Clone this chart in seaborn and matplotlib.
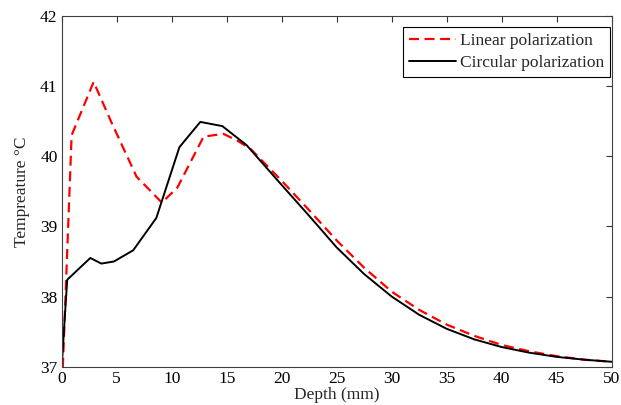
import numpy as np
import pandas as pd
import seaborn as sns
import matplotlib
matplotlib.use("Agg")
import matplotlib.pyplot as plt

depth_linear = [0.0, 0.1, 0.9, 2.9, 4.5, 6.8, 9.1, 10.5, 12.9, 14.7, 16.0, 17.2,
                20.0, 22.5, 25.0, 27.5, 30.0, 32.5, 35.0, 37.5, 40.0, 42.5, 45.0, 47.5, 50.0]
temp_linear = [37.0, 37.0, 40.30, 41.06, 40.49, 39.71, 39.34, 39.55, 40.28, 40.32, 40.22, 40.10,
               39.65, 39.23, 38.80, 38.41, 38.07, 37.81, 37.60, 37.44, 37.31, 37.22, 37.15, 37.10, 37.07]

depth_circular = [0.0, 0.3, 0.5, 2.6, 3.6, 4.75, 6.5, 8.6, 10.7, 12.6, 14.6, 16.8,
                  20.0, 22.5, 25.0, 27.5, 30.0, 32.5, 35.0, 37.5, 40.0, 42.5, 45.0, 47.5, 50.0]
temp_circular = [37.0, 37.76, 38.24, 38.55, 38.47, 38.50, 38.66, 39.12, 40.13, 40.49, 40.43, 40.16,
                 39.59, 39.15, 38.70, 38.32, 38.00, 37.74, 37.54, 37.39, 37.28, 37.20, 37.14, 37.10, 37.07]

x_ticks = [0, 5, 10, 15, 20, 25, 30, 35, 40, 45, 50]
y_ticks = [37, 38, 39, 40, 41, 42]

sns.set_style("white")
plt.rcParams['font.family'] = ['Liberation Serif', 'DejaVu Serif']

fig = plt.figure(figsize=(6.21, 4.05), dpi=100)
ax = fig.add_axes([0.0994, 0.0946, 0.8856, 0.8659])

df_lin = pd.DataFrame({"Depth": depth_linear, "Temp": temp_linear})
df_cir = pd.DataFrame({"Depth": depth_circular, "Temp": temp_circular})

sns.lineplot(data=df_lin, x="Depth", y="Temp", ax=ax, color="#ff0000", sort=False,
             linewidth=1.6, linestyle=(0, (4.5, 2.5)), label="Linear polarization")
sns.lineplot(data=df_cir, x="Depth", y="Temp", ax=ax, color="black", sort=False,
             linewidth=1.4, label="Circular polarization")

ax.set_xlim(0, 50)
ax.set_ylim(37, 42)
ax.set_xticks(x_ticks)
ax.set_yticks(y_ticks)
ax.set_xlabel("Depth (mm)", fontsize=12.5, labelpad=0)
ax.set_ylabel("Tempreature \u00b0C", fontsize=12.5, labelpad=7)
ax.tick_params(axis='both', which='both', direction='in', length=4, width=0.8,
               top=True, right=True, labelsize=12.5, colors='#333333', labelcolor='black', pad=3)
for s in ax.spines.values():
    s.set_color('#404040')
    s.set_linewidth(0.8)

leg = ax.legend(loc='upper right', bbox_to_anchor=(0.997, 0.969), fontsize=12.5, frameon=True,
                fancybox=False, edgecolor='black', framealpha=1, handlelength=2.7,
                handletextpad=0.2, borderpad=0.36, labelspacing=0.3, borderaxespad=0)
leg.get_frame().set_linewidth(0.8)

fig.savefig("out.png", dpi=100)
